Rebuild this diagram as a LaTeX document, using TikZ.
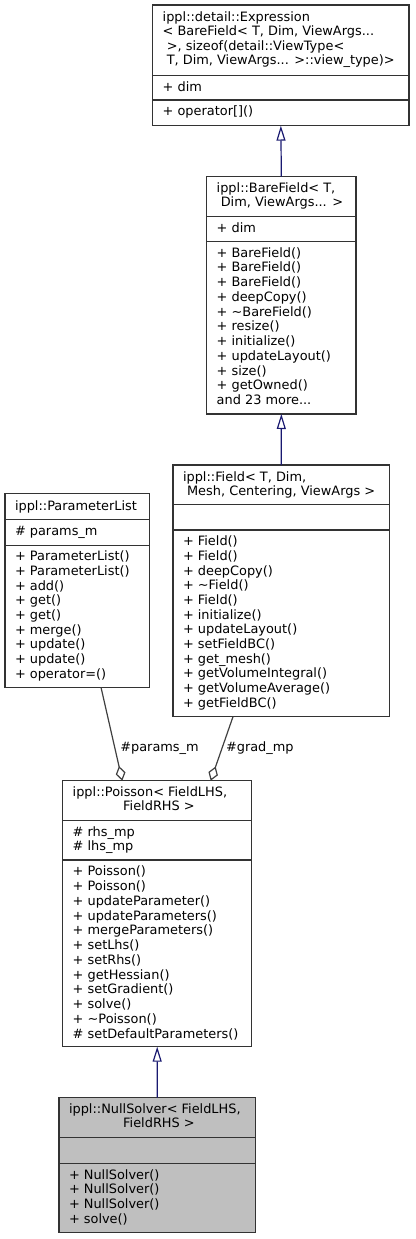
\documentclass[tikz,border=0pt]{standalone}
\usepackage{fontspec}
\setmainfont{DejaVu Sans}
\usetikzlibrary{arrows.meta,calc}
\definecolor{bordc}{HTML}{333333}
\definecolor{inhc}{HTML}{191970}
\definecolor{aggc}{HTML}{404040}
\definecolor{focusc}{HTML}{BFBFBF}
\newcommand\mlL[2][14.75pt]{\vtop{\baselineskip=#1\lineskiplimit=-20pt\lineskip=0pt\halign{##\hfil\cr#2\crcr}}}
\newcommand\divider[2]{\draw[divl] ($(#1.north west)+(0,#2)$) -- ($(#1.north east)+(0,#2)$);}
\tikzset{
  cls/.style={draw=bordc, line width=1.3pt, fill=white, anchor=north west, inner sep=0pt, outer sep=0pt},
  focus/.style={cls, fill=focusc},
  divl/.style={draw=bordc, line width=1.3pt},
  txt/.style={anchor=base west, inner sep=0pt, outer sep=0pt, font=\fontsize{12.9}{14.75}\selectfont},
  ctxt/.style={txt, anchor=base},
  inh/.style={draw=inhc, line width=1.2pt, -{Triangle[length=15pt, width=9pt, fill=white]}},
  agg/.style={draw=aggc, line width=1.2pt, -{Diamond[length=15pt, width=10pt, fill=white]}},
  lbl/.style={txt}
}
\begin{document}
\begin{tikzpicture}[x=1pt,y=-1pt]
\useasboundingbox (0,0) rectangle (415,1239);
% Expression
\node[cls, minimum width=256.3pt, minimum height=120.7pt] (expr) at (152.7,5) {};
\divider{expr}{70.7}
\divider{expr}{95}
\node[txt] (expr-t) at (162.7,21.4) {\mlL[14.5pt]{ippl::detail::Expression\cr
  < BareField< T, Dim, ViewArgs...\cr
  \ >, sizeof(detail::ViewType<\cr
  \ T, Dim, ViewArgs... >::view\_type)>}};
\node[txt] (expr-a) at (162.7,91.3) {+ dim};
\node[txt] (expr-m) at (162.7,115.8) {+ operator[]()};
% BareField
\node[cls, minimum width=149.3pt, minimum height=237.3pt] (bare) at (206.7,176.7) {};
\divider{bare}{40}
\divider{bare}{64.6}
\node[txt] (bare-t) at (216.7,192.9) {\mlL[13.8pt]{ippl::BareField< T,\cr \ Dim, ViewArgs... >}};
\node[txt] (bare-a) at (216.7,232.5) {+ dim};
\node[txt] (bare-m) at (216.7,257.1) {\mlL{+ BareField()\cr + BareField()\cr + BareField()\cr
  + deepCopy()\cr + \textasciitilde BareField()\cr + resize()\cr + initialize()\cr
  + updateLayout()\cr + size()\cr + getOwned()\cr and 23 more...}};
% Field
\node[cls, minimum width=216.3pt, minimum height=251.7pt] (field) at (173,465) {};
\divider{field}{39.3}
\divider{field}{65}
\node[txt] (field-t) at (183,481.2) {\mlL[13.8pt]{ippl::Field< T, Dim,\cr \ Mesh, Centering, ViewArgs >}};
\node[txt] (field-m) at (183,545.7) {\mlL[14.68pt]{+ Field()\cr + Field()\cr + deepCopy()\cr
  + \textasciitilde Field()\cr + Field()\cr + initialize()\cr + updateLayout()\cr
  + setFieldBC()\cr + get\_mesh()\cr + getVolumeIntegral()\cr + getVolumeAverage()\cr
  + getFieldBC()}};
% ParameterList
\node[cls, minimum width=144.3pt, minimum height=193.6pt] (plist) at (5,493.7) {};
\divider{plist}{25.6}
\divider{plist}{51.6}
\node[txt] (plist-t) at (15,510) {ippl::ParameterList};
\node[txt] (plist-a) at (15,535.1) {\# params\_m};
\node[txt] (plist-m) at (15,560.9) {\mlL[14.68pt]{+ ParameterList()\cr + ParameterList()\cr + add()\cr
  + get()\cr + get()\cr + merge()\cr + update()\cr + update()\cr + operator=()}};
% Poisson
\node[cls, minimum width=189pt, minimum height=266pt] (poisson) at (62.7,780.7) {};
\divider{poisson}{40}
\divider{poisson}{79.3}
\node[txt] (poisson-t1) at (72.7,796.9) {ippl::Poisson< FieldLHS,};
\node[ctxt] (poisson-t2) at (159,810.7) {FieldRHS >};
\node[txt] (poisson-a) at (72.7,836.7) {\mlL[14.2pt]{\# rhs\_mp\cr \# lhs\_mp}};
\node[txt] (poisson-m) at (72.7,875.9) {\mlL{+ Poisson()\cr + Poisson()\cr + updateParameter()\cr
  + updateParameters()\cr + mergeParameters()\cr + setLhs()\cr + setRhs()\cr
  + getHessian()\cr + setGradient()\cr + solve()\cr + \textasciitilde Poisson()\cr
  \# setDefaultParameters()}};
% NullSolver
\node[focus, minimum width=196.3pt, minimum height=134.6pt] (nulls) at (59,1097.7) {};
\divider{nulls}{39.6}
\divider{nulls}{65.6}
\node[txt] (nulls-t1) at (69,1113.9) {ippl::NullSolver< FieldLHS,};
\node[ctxt] (nulls-t2) at (159,1127.7) {FieldRHS >};
\node[txt] (nulls-m) at (69,1179.1) {\mlL{+ NullSolver()\cr + NullSolver()\cr + NullSolver()\cr + solve()}};
% connectors
\draw[inh] (bare.north) -- (expr.south);
\draw[inh] (field.north) -- (bare.south);
\draw[inh] (nulls.north) -- (poisson.south);
\draw[agg] ($(plist.south west)+(96,0)$) -- ($(poisson.north west)+(59.6,0)$);
\draw[agg] ($(field.south west)+(60,0)$) -- ($(poisson.north west)+(148,0)$);
\node[lbl] (lbl-params) at (120.3,751.7) {\#params\_m};
\node[lbl] (lbl-grad) at (226,751.7) {\#grad\_mp};
\end{tikzpicture}
\end{document}
